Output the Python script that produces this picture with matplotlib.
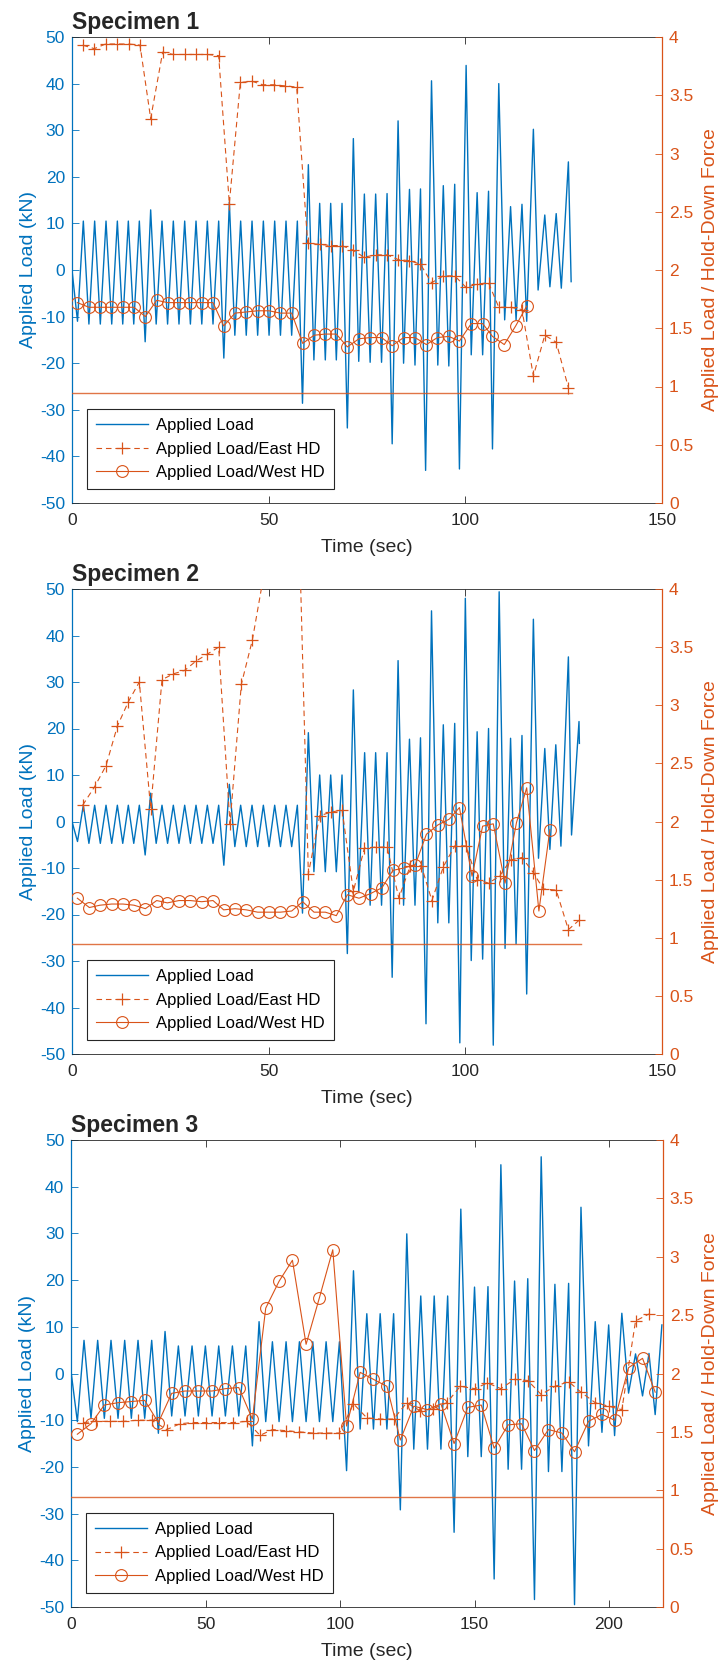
import matplotlib
matplotlib.use("Agg")
import matplotlib.pyplot as plt

plt.rcParams['font.family'] = ['Liberation Sans', 'DejaVu Sans']
plt.rcParams['axes.unicode_minus'] = False

BLUE = '#0072BD'
ORANGE = '#D95319'
DARK = '#262626'

# ---------------- Specimen 1 ----------------
load1_t = [0, 1.4, 2.88, 4.3, 5.76, 7.2, 8.65, 10.1, 11.53, 12.9,
           14.32, 15.7, 17.12, 18.6, 20.0, 21.4, 22.88, 24.3, 25.76, 27.2,
           28.65, 30.1, 31.53, 33.0, 34.41, 35.85, 37.29, 38.6, 40.0, 41.4,
           42.88, 44.3, 45.77, 47.2, 48.65, 50.1, 51.53, 53.0, 54.41, 55.85,
           57.29, 58.6, 60.09, 61.5, 62.97, 64.4, 65.77, 67.2, 68.65, 70.0,
           71.53, 72.9, 74.33, 75.8, 77.2, 78.7, 80.1, 81.4, 82.9, 84.3,
           85.8, 87.2, 88.6, 89.9, 91.4, 93.0, 94.4, 95.8, 97.3, 98.5,
           100.2, 101.5, 103.0, 104.4, 105.9, 106.9, 108.5, 110.0, 111.5, 112.9,
           114.4, 115.6, 117.3, 118.5, 120.2, 121.5, 123.1, 124.4, 126.2, 126.9]
load1_v = [0, -11.0, 10.5, -11.6, 10.5, -11.6, 10.5, -11.6, 10.5, -11.6,
           10.5, -11.6, 10.5, -15.4, 12.9, -11.6, 10.5, -11.6, 10.5, -11.6,
           10.5, -11.6, 10.5, -11.6, 10.5, -11.6, 10.5, -18.9, 14.6, -14.0,
           10.5, -14.0, 10.5, -14.0, 10.5, -14.0, 10.5, -14.0, 10.5, -14.0,
           10.5, -28.6, 22.6, -19.3, 14.3, -19.3, 14.3, -19.3, 14.3, -33.9,
           28.2, -19.6, 16.3, -19.8, 16.3, -19.8, 16.4, -37.3, 32.0, -20.0,
           17.3, -20.4, 17.4, -43.0, 40.6, -20.4, 18.1, -20.6, 18.4, -42.7,
           43.9, -18.2, 16.6, -18.2, 16.9, -38.4, 40.0, -10.7, 13.6, -10.7,
           14.1, -11.0, 30.2, -4.3, 11.8, -3.6, 12.1, -3.9, 23.2, -2.5]
east1_t = [2.71, 5.68, 8.56, 11.53, 14.41, 17.29, 20.0, 23.05, 25.76, 28.65,
           31.53, 34.41, 37.29, 40.0, 42.8, 45.77, 48.48, 51.36, 54.24, 57.12,
           59.92, 62.97, 65.77, 68.56, 71.44, 74.24, 77.2, 80.1, 82.9, 85.8,
           88.6, 91.4, 94.4, 97.3, 100.2, 103.0, 105.9, 108.5, 111.5, 114.4,
           117.3, 120.2, 123.1, 126.2]
east1_v = [3.93, 3.90, 3.94, 3.94, 3.94, 3.93, 3.30, 3.87, 3.85, 3.85,
           3.85, 3.85, 3.84, 2.57, 3.61, 3.62, 3.59, 3.59, 3.58, 3.57,
           2.23, 2.22, 2.21, 2.21, 2.17, 2.11, 2.13, 2.13, 2.09, 2.08,
           2.05, 1.89, 1.95, 1.95, 1.85, 1.88, 1.89, 1.68, 1.68, 1.66,
           1.09, 1.44, 1.38, 0.99]
west1_t = [1.36, 4.32, 7.12, 10.0, 12.88, 15.76, 18.65, 21.53, 24.32, 27.2,
           30.08, 32.97, 35.85, 38.56, 41.44, 44.32, 47.2, 50.08, 52.97, 55.85,
           58.65, 61.53, 64.32, 67.2, 70.0, 72.97, 75.8, 78.7, 81.4, 84.3,
           87.2, 90.1, 92.9, 95.8, 98.5, 101.5, 104.4, 106.9, 109.9, 112.8,
           115.6]
west1_v = [1.72, 1.68, 1.68, 1.68, 1.68, 1.68, 1.60, 1.74, 1.72, 1.72,
           1.72, 1.72, 1.72, 1.52, 1.63, 1.64, 1.65, 1.65, 1.63, 1.63,
           1.37, 1.44, 1.45, 1.45, 1.34, 1.41, 1.42, 1.42, 1.35, 1.42,
           1.42, 1.36, 1.42, 1.43, 1.39, 1.54, 1.54, 1.43, 1.36, 1.52,
           1.69]

# ---------------- Specimen 2 ----------------
load2_t = [0, 1.4, 2.88, 4.3, 5.76, 7.2, 8.65, 10.1, 11.53, 12.9,
           14.32, 15.7, 17.12, 18.6, 20.0, 21.4, 22.88, 24.3, 25.76, 27.2,
           28.65, 30.1, 31.53, 33.0, 34.41, 35.85, 37.29, 38.6, 40.0, 41.4,
           42.88, 44.3, 45.77, 47.2, 48.65, 50.1, 51.53, 53.0, 54.41, 55.85,
           57.29, 58.6, 60.09, 61.5, 62.97, 64.4, 65.77, 67.2, 68.65, 70.0,
           71.53, 72.9, 74.4, 75.8, 77.2, 78.7, 80.1, 81.4, 82.9, 84.3,
           85.8, 87.2, 88.6, 90.0, 91.4, 93.0, 94.4, 95.8, 97.3, 98.6,
           100.0, 101.5, 103.0, 104.4, 105.9, 107.1, 108.6, 110.1, 111.5, 112.9,
           114.4, 115.6, 117.3, 118.6, 120.2, 121.5, 123.0, 124.3, 126.2, 127.0,
           128.9, 129.0]
load2_v = [0, -4.3, 3.5, -4.7, 3.5, -4.7, 3.5, -4.7, 3.5, -4.7,
           3.5, -4.7, 3.5, -7.2, 6.1, -4.7, 3.5, -4.7, 3.5, -4.7,
           3.5, -4.7, 3.5, -4.7, 3.5, -4.7, 3.5, -9.4, 8.0, -5.4,
           3.5, -5.4, 3.5, -5.4, 3.5, -5.4, 3.5, -5.4, 3.5, -5.4,
           3.5, -19.7, 19.1, -10.8, 10.0, -10.8, 10.0, -10.8, 10.0, -28.4,
           28.3, -15.1, 14.8, -18.0, 14.8, -18.0, 14.8, -33.5, 34.6, -18.0,
           17.7, -18.0, 18.0, -43.5, 45.3, -21.8, 20.8, -21.8, 21.1, -47.6,
           48.0, -29.9, 19.3, -29.6, 20.0, -48.1, 49.4, -27.3, 17.9, -26.3,
           18.5, -37.1, 43.5, -7.9, 15.7, -6.0, 16.5, -5.3, 35.4, -2.9,
           21.5, 16.8]
east2_t = [2.71, 5.76, 8.65, 11.53, 14.32, 17.12, 20.0, 22.88, 25.76, 28.65,
           31.53, 34.41, 37.29, 40.17, 43.05, 45.85, 48.65, 51.53, 54.41, 57.29,
           60.09, 62.97, 65.85, 68.65, 71.53, 74.33, 77.2, 80.1, 83.1, 86.0,
           88.8, 91.5, 94.4, 97.3, 100.2, 103.0, 105.9, 108.7, 111.5, 114.4,
           117.3, 119.8, 123.1, 126.2, 128.9]
east2_v = [2.14, 2.30, 2.48, 2.82, 3.03, 3.20, 2.11, 3.22, 3.27, 3.30,
           3.38, 3.44, 3.50, 1.98, 3.18, 3.56, 4.1, 4.5, 4.8, 5.1,
           1.55, 2.05, 2.08, 2.10, 1.40, 1.77, 1.78, 1.78, 1.34, 1.62,
           1.62, 1.32, 1.61, 1.79, 1.79, 1.50, 1.47, 1.53, 1.67, 1.69,
           1.56, 1.42, 1.41, 1.07, 1.15]
west2_t = [1.36, 4.41, 7.12, 10.08, 12.97, 15.76, 18.65, 21.53, 24.24, 27.2,
           30.08, 32.97, 35.85, 38.56, 41.44, 44.32, 47.2, 50.08, 52.97, 55.85,
           58.65, 61.53, 64.41, 67.2, 70.0, 72.97, 75.9, 78.8, 81.6, 84.4,
           87.3, 90.1, 93.0, 95.9, 98.5, 101.7, 104.4, 107.1, 110.1, 113.0,
           115.6, 118.7, 121.5]
west2_v = [1.34, 1.26, 1.28, 1.29, 1.29, 1.28, 1.25, 1.32, 1.30, 1.32,
           1.32, 1.31, 1.32, 1.24, 1.25, 1.24, 1.22, 1.22, 1.22, 1.23,
           1.31, 1.22, 1.22, 1.19, 1.37, 1.34, 1.38, 1.43, 1.58, 1.60,
           1.63, 1.89, 1.97, 2.02, 2.12, 1.53, 1.96, 1.98, 1.47, 1.99,
           2.29, 1.23, 1.93]

# ---------------- Specimen 3 ----------------
load3_t = [0, 2.25, 4.73, 7.33, 9.81, 12.29, 14.77, 17.38, 19.86, 22.34,
           24.82, 27.3, 29.91, 32.39, 34.87, 37.35, 39.83, 42.31, 44.92, 47.27,
           49.88, 52.36, 54.84, 57.32, 59.93, 62.29, 64.89, 67.37, 69.85, 72.33,
           74.81, 77.29, 79.9, 82.26, 84.86, 87.34, 89.83, 92.31, 94.79, 97.27,
           99.75, 102.4, 104.97, 107.45, 109.93, 112.4, 114.9, 117.4, 119.9, 122.4,
           124.8, 127.4, 130.0, 132.5, 135.0, 137.5, 140.0, 142.4, 144.9, 147.5,
           150.0, 152.5, 155.0, 157.3, 159.8, 162.5, 164.9, 167.5, 169.8, 172.3,
           174.8, 177.5, 179.9, 182.5, 185.0, 187.2, 189.6, 192.4, 194.9, 197.4,
           199.9, 202.1, 204.8, 207.3, 209.9, 212.5, 214.9, 217.2, 219.7]
load3_v = [0, -10.3, 7.1, -9.6, 7.1, -9.6, 7.1, -9.6, 7.1, -9.6,
           7.1, -9.6, 7.1, -12.8, 9.0, -9.1, 5.9, -9.1, 5.9, -9.1,
           5.9, -9.1, 5.9, -9.1, 5.9, -9.1, 5.9, -15.5, 11.1, -10.3,
           6.8, -10.3, 6.8, -10.3, 6.8, -10.3, 6.8, -10.3, 6.8, -10.3,
           6.8, -20.8, 22.0, -11.9, 12.8, -11.9, 12.8, -11.9, 12.8, -29.2,
           29.9, -16.2, 16.6, -16.2, 16.6, -16.2, 16.6, -34.0, 35.2, -17.8,
           18.5, -17.8, 18.6, -44.0, 44.7, -20.5, 19.8, -20.5, 20.3, -48.4,
           46.4, -21.0, 19.1, -21.0, 19.3, -49.5, 35.6, -15.5, 11.1, -12.6,
           10.4, -13.3, 12.9, -4.2, 4.2, -4.8, 4.3, -8.8, 10.4]
east3_t = [4.5, 9.3, 14.4, 19.4, 24.9, 29.9, 35.5, 40.5, 45.2, 50.1,
           55.1, 60.3, 65.3, 70.2, 74.81, 79.9, 84.86, 89.83, 94.79, 99.75,
           104.97, 109.93, 114.9, 119.9, 124.8, 129.8, 134.7, 139.7, 144.7, 150.2,
           154.8, 159.8, 164.9, 169.8, 174.8, 179.9, 185.0, 189.6, 194.9, 199.9,
           204.8, 209.9, 214.9]
east3_v = [1.58, 1.59, 1.59, 1.59, 1.60, 1.60, 1.52, 1.57, 1.58, 1.58,
           1.58, 1.58, 1.59, 1.47, 1.52, 1.51, 1.50, 1.49, 1.49, 1.49,
           1.74, 1.62, 1.61, 1.61, 1.75, 1.68, 1.70, 1.75, 1.89, 1.87,
           1.92, 1.87, 1.95, 1.94, 1.82, 1.89, 1.93, 1.84, 1.75, 1.72,
           1.69, 2.45, 2.51]
west3_t = [2.25, 7.33, 12.29, 17.38, 22.34, 27.3, 32.39, 37.35, 42.31, 47.27,
           52.36, 57.32, 62.29, 67.37, 72.33, 77.29, 82.26, 87.34, 92.31, 97.27,
           102.4, 107.45, 112.4, 117.4, 122.4, 127.4, 132.5, 137.5, 142.4, 147.5,
           152.5, 157.3, 162.5, 167.5, 172.3, 177.5, 182.5, 187.2, 192.4, 197.4,
           202.1, 207.3, 212.5, 217.2]
west3_v = [1.48, 1.57, 1.73, 1.75, 1.76, 1.77, 1.58, 1.83, 1.85, 1.85,
           1.85, 1.87, 1.88, 1.61, 2.56, 2.79, 2.97, 2.25, 2.65, 3.06,
           1.55, 2.01, 1.95, 1.89, 1.43, 1.72, 1.69, 1.74, 1.40, 1.71,
           1.73, 1.36, 1.56, 1.57, 1.34, 1.52, 1.49, 1.33, 1.59, 1.65,
           1.60, 2.05, 2.13, 1.84]

# horizontal reference level (right axis) and its extent
hd_level = 0.945
hd_end = [127.0, 129.3, 220.0]

titles = ['Specimen 1', 'Specimen 2', 'Specimen 3']
x_limits = [150, 150, 220]
x_ticks = [[0, 50, 100, 150], [0, 50, 100, 150], [0, 50, 100, 150, 200]]
left_ticks = [-50, -40, -30, -20, -10, 0, 10, 20, 30, 40, 50]
right_ticks = [0, 0.5, 1, 1.5, 2, 2.5, 3, 3.5, 4]
right_ticklabels = ['0', '0.5', '1', '1.5', '2', '2.5', '3', '3.5', '4']
legend_labels = ['Applied Load', 'Applied Load/East HD', 'Applied Load/West HD']

panels = [
    (load1_t, load1_v, east1_t, east1_v, west1_t, west1_v),
    (load2_t, load2_v, east2_t, east2_v, west2_t, west2_v),
    (load3_t, load3_v, east3_t, east3_v, west3_t, west3_v),
]

W, H = 726, 1663
fig = plt.figure(figsize=(W / 100, H / 100), dpi=100)

# axes boxes in pixels: left, top, right, bottom
boxes = [(72, 37, 662, 503), (72, 589, 662, 1054), (71.3, 1140, 662.7, 1607)]

for i, (lt, lv, et, ev, wt, wv) in enumerate(panels):
    l, t, r, b = boxes[i]
    ax = fig.add_axes([l / W, 1 - b / H, (r - l) / W, (b - t) / H])
    ax2 = ax.twinx()

    h1, = ax.plot(lt, lv, color=BLUE, lw=1.0)
    ax.set_xlim(0, x_limits[i])
    ax.set_ylim(-50, 50)
    ax.set_xticks(x_ticks[i])
    ax.set_yticks(left_ticks)

    ax2.plot([0, hd_end[i]], [hd_level, hd_level], color=ORANGE, lw=1.0, alpha=0.8)
    h2, = ax2.plot(et, ev, color=ORANGE, ls=(0, (5, 3.5)), lw=0.8,
                   marker='+', ms=9, mew=0.9)
    h3, = ax2.plot(wt, wv, color=ORANGE, ls='-', lw=0.8,
                   marker='o', ms=8.5, mfc='none', mew=0.8)
    ax2.set_ylim(0, 4)
    ax2.set_yticks(right_ticks)
    ax2.set_yticklabels(right_ticklabels)

    # spines
    for s in ['top', 'bottom']:
        ax.spines[s].set_color(DARK)
        ax.spines[s].set_linewidth(0.6)
        ax2.spines[s].set_visible(False)
    ax.spines['right'].set_visible(False)
    ax.spines['left'].set_color(BLUE)
    ax.spines['left'].set_linewidth(0.9)
    ax2.spines['left'].set_visible(False)
    ax2.spines['right'].set_color(ORANGE)
    ax2.spines['right'].set_linewidth(0.9)

    ax.tick_params(axis='x', direction='in', top=True, bottom=True, length=5,
                   width=0.6, colors=DARK, labelsize=12.5, pad=7)
    ax.tick_params(axis='y', direction='in', left=True, right=False, length=5,
                   width=0.6, colors=BLUE, labelsize=12.5, pad=5)
    ax2.tick_params(axis='y', direction='in', right=True, left=False, length=5,
                    width=0.6, colors=ORANGE, labelsize=12.5, pad=5)

    ax.set_xlabel('Time (sec)', fontsize=14, color=DARK, labelpad=8)
    ax.set_ylabel('Applied Load (kN)', fontsize=14, color=BLUE, labelpad=2)
    ax2.set_ylabel('Applied Load / Hold-Down Force', fontsize=14, color=ORANGE,
                   labelpad=6)
    ax.set_title(titles[i], loc='left', fontsize=16.5, fontweight='bold',
                 color=DARK, pad=6)

    leg = ax2.legend([h1, h2, h3], legend_labels, loc='lower left',
                     bbox_to_anchor=(0.025, 0.03), borderaxespad=0,
                     fontsize=12, fancybox=False, framealpha=1,
                     edgecolor=DARK, handlelength=3.1, handletextpad=0.5,
                     borderpad=0.55, labelspacing=0.5)
    leg.get_frame().set_linewidth(0.8)

fig.savefig('out.png', dpi=100)
